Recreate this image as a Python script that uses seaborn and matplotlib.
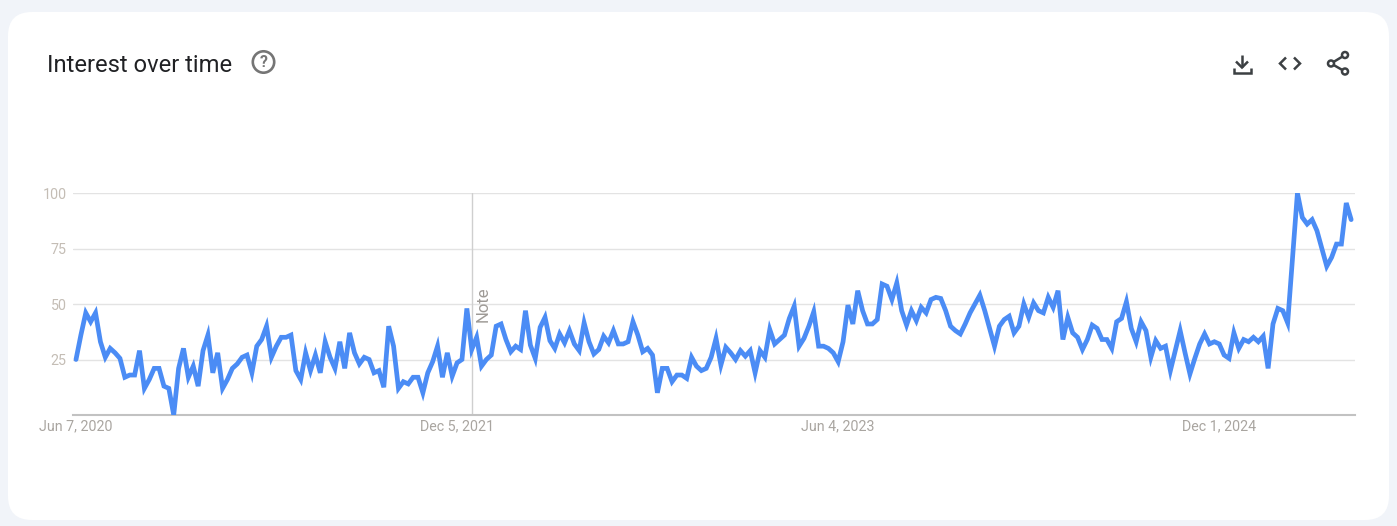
import pandas as pd
import matplotlib
matplotlib.use("Agg")
import matplotlib.pyplot as plt
import seaborn as sns
from matplotlib.patches import FancyBboxPatch, Circle

START_DATE = "2020-06-07"

interest = [
    25, 36, 46, 42, 46, 33, 26, 30, 28, 25.5, 17, 18, 18, 29, 12, 16, 21, 21, 13, 12,
    0, 21, 30, 17, 22, 13, 29, 36, 19, 28, 12, 16, 21, 23, 26, 27, 19, 31, 34, 40,
    26, 31, 35, 35, 36, 20, 16, 28, 20, 27, 19, 33, 26, 21, 33, 21, 37, 28, 23, 26,
    25, 19, 20, 12.5, 40, 31, 12, 15, 14, 17, 17, 10, 19, 24, 31, 17, 28, 17.5, 23.5, 25,
    48, 29.5, 35, 22, 25, 27, 40, 41, 34, 28.5, 31, 29.5, 47, 31.5, 25.5, 39.5, 44, 33.5, 30, 36.5,
    32.5, 38, 32, 29, 41.5, 33, 27.5, 29.5, 35.5, 32.5, 38, 32, 32, 33, 42, 36, 28.5, 30, 27, 10,
    21, 21, 15, 18, 18, 16.5, 26, 22, 20, 21, 26, 34.5, 22.5, 30.5, 28, 25, 29, 26.5, 29, 19,
    29, 26, 38.5, 32, 34, 36, 43.5, 49, 31, 34.5, 40, 46.5, 31, 31, 30, 28, 24, 33, 49.5, 41,
    56, 47, 41, 41, 43, 59, 58, 52, 59.5, 47, 40.5, 47, 42.5, 48.5, 46, 52, 53, 52.5, 47, 40,
    38, 36.5, 41, 46, 50, 54, 47, 39, 31, 40, 43, 44.5, 37, 40, 50, 44, 50.5, 47, 46, 53,
    48.5, 56, 34, 44, 37, 35, 29.5, 34, 40.5, 39, 34, 34, 30, 42, 43.5, 51, 39, 33, 42, 38,
    26, 33.5, 30, 31, 20, 29, 38, 28, 18.5, 25.5, 32, 36.5, 32, 33, 32, 27, 25.5, 37, 30, 34,
    33, 35, 33, 35.5, 21, 41, 48, 47, 41.5, 70.5, 100, 89, 86, 88, 83, 75, 67, 71, 77, 77,
    95.5, 88,
]
y_ticks = [25, 50, 75, 100]
x_tick_dates = ["2020-06-07", "2021-12-05", "2023-06-04", "2024-12-01"]
x_tick_labels = ["Jun 7, 2020", "Dec 5, 2021", "Jun 4, 2023", "Dec 1, 2024"]
note_date = "2021-12-26"

W, H = 1397, 526
dates = pd.date_range(START_DATE, periods=len(interest), freq="7D")
df = pd.DataFrame({"date": dates, "interest": interest})

sns.set_theme(style="white")
plt.rcParams["font.family"] = ["Roboto", "DejaVu Sans"]

fig = plt.figure(figsize=(W / 100, H / 100), dpi=100, facecolor="#f1f4f9")

# page layer in pixel coordinates, for the card, the header and its icons
page = fig.add_axes([0, 0, 1, 1], zorder=0)
page.set_xlim(0, W)
page.set_ylim(H, 0)
page.axis("off")
page.add_patch(FancyBboxPatch((32, 36), 1333, 460, boxstyle="round,pad=24,rounding_size=24",
                              fc="white", ec="none"))
page.text(47, 65, "Interest over time", fontsize=17.1, color="#202124", va="center", ha="left")

# help icon
page.add_patch(Circle((263.5, 62), 10.7, fc="none", ec="#757575", lw=1.9))
page.text(263.5, 62.5, "?", fontsize=11.5, fontweight="bold", color="#757575", ha="center", va="center")

# download, embed, share icons
icon = dict(color="#3c4043", lw=1.8, solid_capstyle="butt", solid_joinstyle="miter")
page.plot([1242, 1242], [55, 67], **icon)
page.plot([1236, 1242, 1248], [61.5, 67.5, 61.5], **icon)
page.plot([1233.5, 1233.5, 1250.5, 1250.5], [68, 73, 73, 68], **icon)
page.plot([1286, 1280, 1286], [57.5, 63.5, 69.5], **icon)
page.plot([1294, 1300, 1294], [57.5, 63.5, 69.5], **icon)
page.plot([1345, 1331, 1345], [55, 63.5, 71.5], **icon)
for cx, cy in [(1345, 55), (1331, 63.5), (1345, 71.5)]:
    page.add_patch(Circle((cx, cy), 3, fc="white", ec="#3c4043", lw=1.8, zorder=3))

# chart
ax = fig.add_axes([73 / W, 1 - 415 / H, (1355 - 73) / W, (415 - 193) / H], zorder=1)
ax.patch.set_alpha(0)
sns.lineplot(data=df, x="date", y="interest", ax=ax, color="#4b8cf5", linewidth=3.4,
             solid_joinstyle="miter", zorder=3)
ax.set_xlim(dates[0] - pd.Timedelta(days=4.3), dates[-1] + pd.Timedelta(days=5.5))
ax.set_ylim(0, 100)
ax.set_xlabel("")
ax.set_ylabel("")

ax.set_yticks(y_ticks)
ax.set_yticklabels([str(v) for v in y_ticks])
ax.set_xticks(pd.to_datetime(x_tick_dates))
ax.set_xticklabels(x_tick_labels)
ax.tick_params(axis="y", length=0, pad=4.5, labelsize=10.3, labelcolor="#c4bdb5")
ax.tick_params(axis="x", length=0, pad=3, labelsize=10.3, labelcolor="#a9a5a0")

ax.grid(axis="y", color="#e3e3e3", linewidth=1)
ax.set_axisbelow(True)
for side in ["top", "left", "right"]:
    ax.spines[side].set_visible(False)
ax.spines["bottom"].set_color("#c2c2c2")
ax.spines["bottom"].set_linewidth(1.5)

note_x = pd.Timestamp(note_date)
ax.axvline(note_x, color="#cfcfcf", linewidth=1, zorder=2)
ax.annotate("Note", xy=(note_x, 50), xytext=(8.5, 0), textcoords="offset points",
            rotation=90, fontsize=12, color="#9e9a96", ha="center", va="center")

fig.savefig("out.png", dpi=100, facecolor=fig.get_facecolor())
